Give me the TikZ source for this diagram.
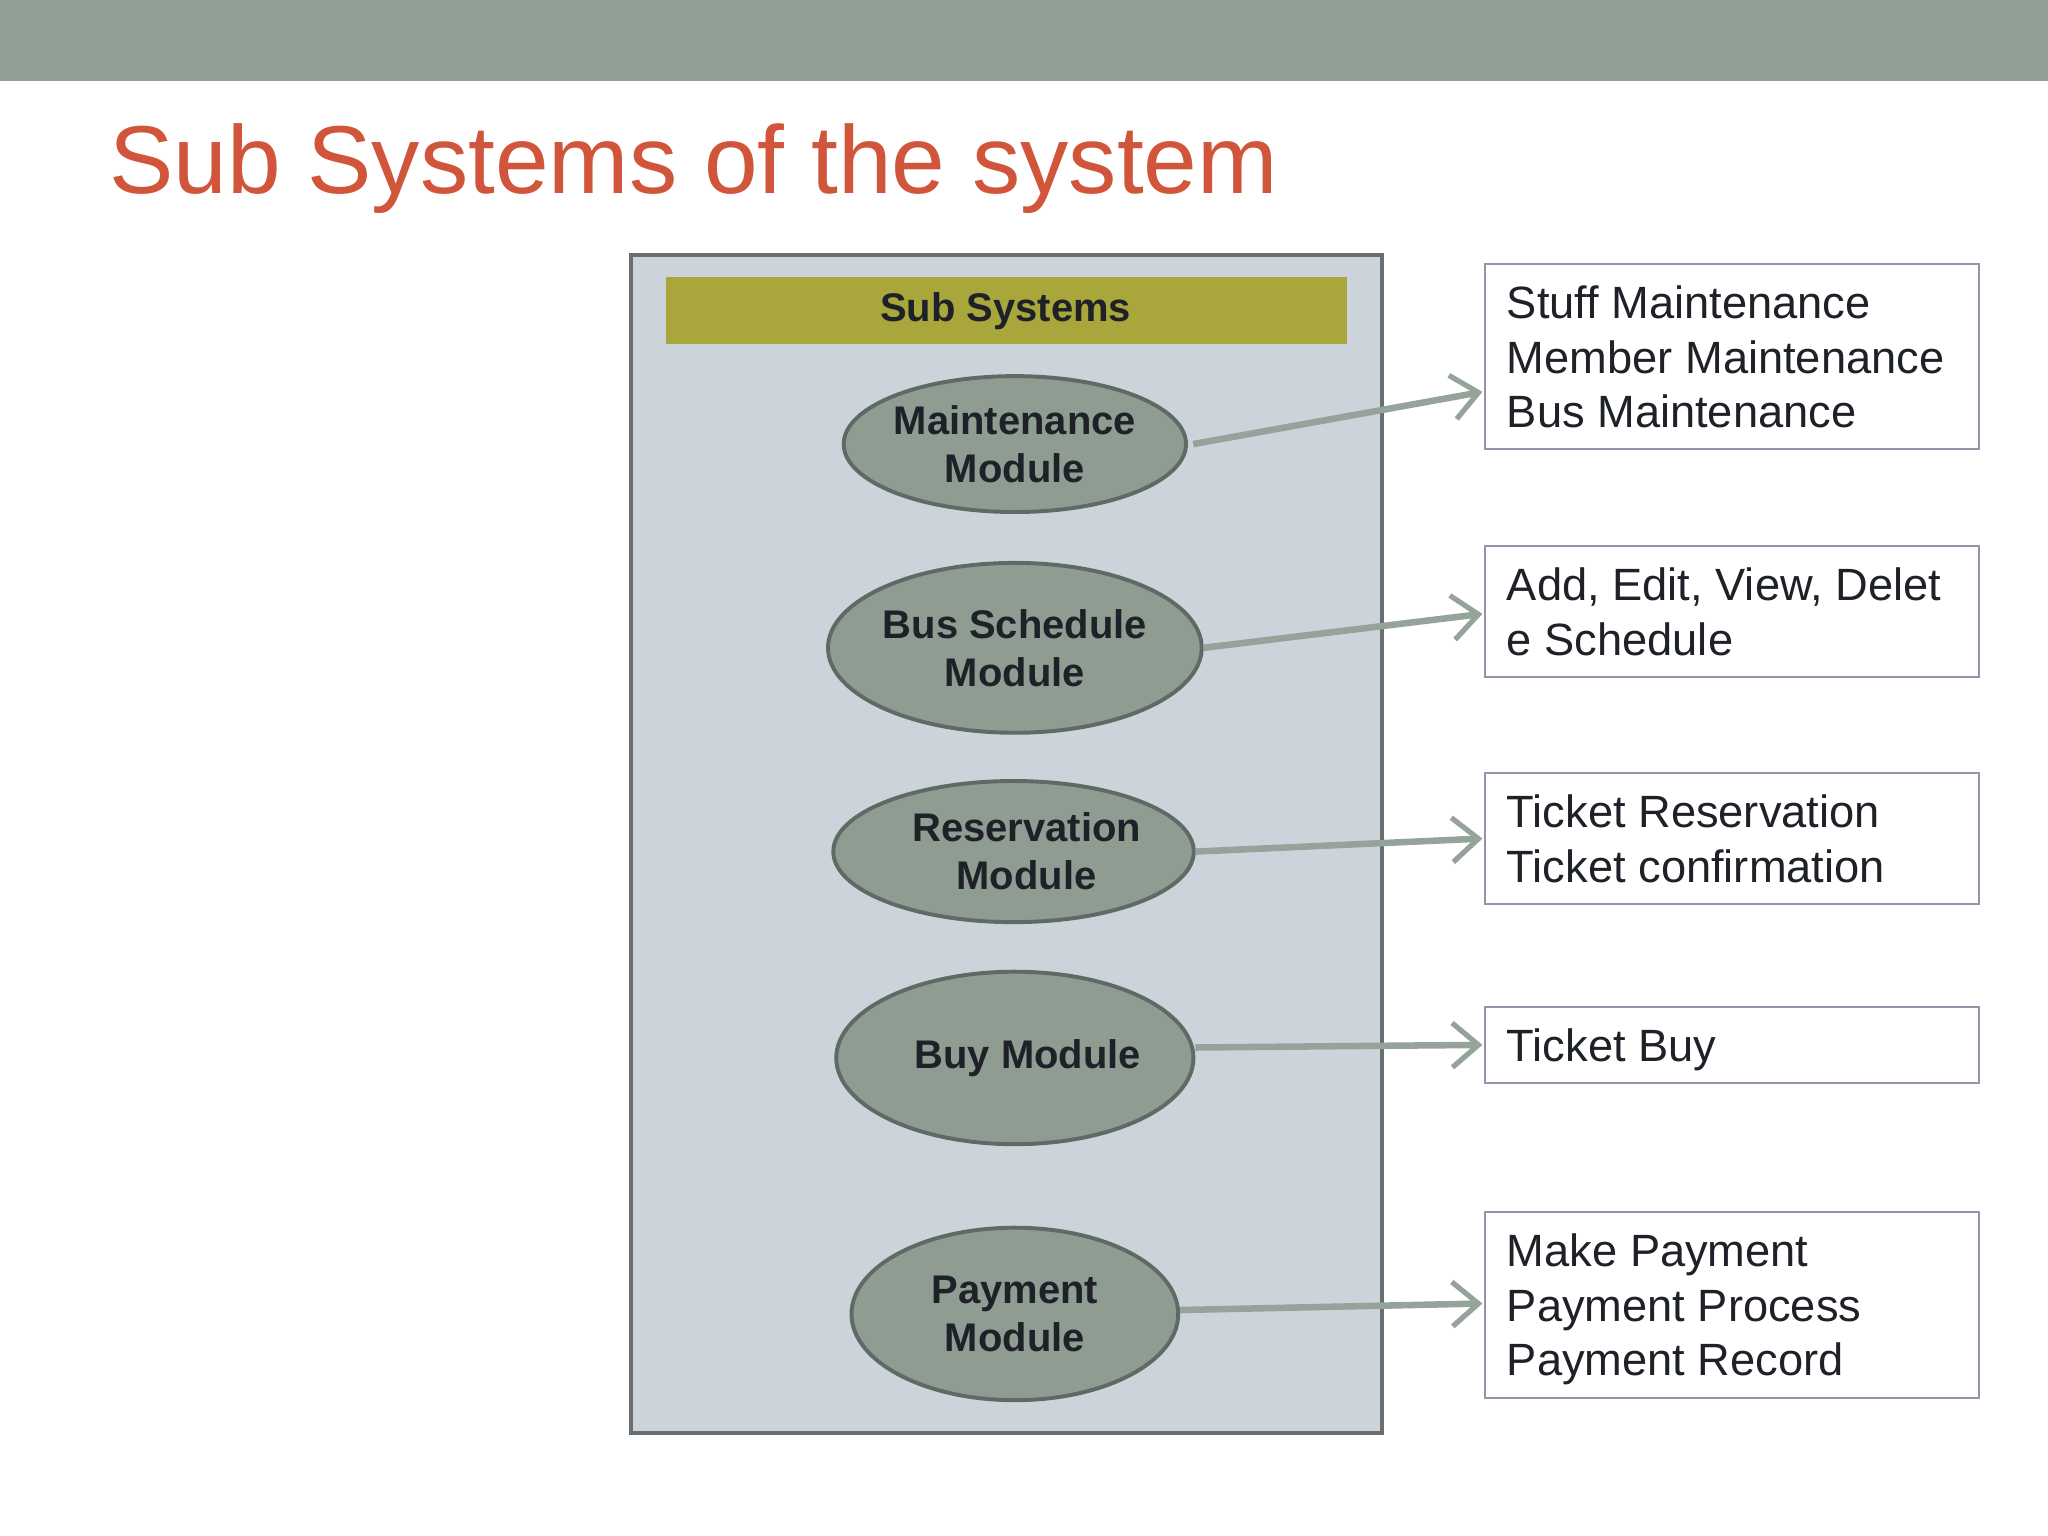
\documentclass[tikz,border=0pt]{standalone}
\usepackage{fontspec}
\setmainfont{Liberation Sans}
\usetikzlibrary{arrows.meta,shapes.geometric}
\definecolor{barc}{HTML}{90A097}
\definecolor{titlec}{HTML}{D0553A}
\definecolor{panelc}{HTML}{CDD3DB}
\definecolor{paneld}{HTML}{6B6E6E}
\definecolor{headc}{HTML}{A9A63B}
\definecolor{ellf}{HTML}{8E9C91}
\definecolor{elld}{HTML}{5E6B64}
\definecolor{arrc}{HTML}{95A39B}
\definecolor{boxd}{HTML}{8E96A8}
\definecolor{txt}{HTML}{1E2228}
\tikzset{
 mod/.style={ellipse,fill=ellf,draw=elld,line width=0.03cm,font=\fontsize{8.7}{10.5}\selectfont\bfseries,text=txt,align=center,inner sep=0pt},
 infobox/.style={draw=boxd,line width=0.015cm,fill=white},
 infotext/.style={anchor=north west,font=\fontsize{9.85}{11.9}\selectfont,text=txt,align=left,inner sep=0pt},
 conn/.style={draw=arrc,line width=0.05cm,-{Straight Barb[length=0.2cm,width=0.34cm,line width=0.04cm]}}
}
\begin{document}
\begin{tikzpicture}[x=0.01cm,y=-0.01cm]
\useasboundingbox (0,0) rectangle (1568,1176);
\fill[barc] (0,0) rectangle (1568,62);
\node[anchor=base west,inner sep=0pt,text=titlec,font=\fontsize{21}{25}\selectfont] (title) at (83,148) {Sub Systems of the system};
\draw[fill=panelc,draw=paneld,line width=0.03cm] (483,195) rectangle (1058,1097);
\fill[headc] (510,212) rectangle (1031,263);
\node[font=\fontsize{8.7}{10}\selectfont\bfseries,text=txt] (head) at (770,238) {Sub Systems};
\node[mod,minimum width=2.22cm,minimum height=1.04cm] (m1) at (777,340) {Maintenance\\Module};
\node[mod,minimum width=2.5cm,minimum height=1.3cm] (m2) at (777,496) {Bus Schedule\\Module};
\node[mod,minimum width=2.36cm,minimum height=1.08cm] (m3) at (776,652) {\hspace*{0.2cm}Reservation\\\hspace*{0.2cm}Module};
\node[mod,minimum width=2.5cm,minimum height=1.32cm] (m4) at (777,810) {\hspace*{0.2cm}Buy Module};
\node[mod,minimum width=2.5cm,minimum height=1.32cm] (m5) at (777,1006) {Payment\\Module};
\draw[infobox] (1137,202) rectangle (1515,344);
\draw[infobox] (1137,418) rectangle (1515,518);
\draw[infobox] (1137,592) rectangle (1515,692);
\draw[infobox] (1137,771) rectangle (1515,829);
\draw[infobox] (1137,928) rectangle (1515,1070);
\node[infotext] (t1) at (1153,218) {Stuff Maintenance\\Member Maintenance\\Bus Maintenance};
\node[infotext] (t2) at (1153,434) {Add, Edit, View, Delet\\e Schedule};
\node[infotext] (t3) at (1153,608) {Ticket Reservation\\Ticket confirmation};
\node[infotext] (t4) at (1153,787) {Ticket Buy};
\node[infotext] (t5) at (1153,944) {Make Payment\\Payment Process\\Payment Record};
\coordinate (e1) at (1135,300);
\coordinate (e2) at (1135,470);
\coordinate (e3) at (1135,642);
\coordinate (e4) at (1135,800);
\coordinate (e5) at (1135,998);
\draw[conn] (m1.east) ++(4,0) -- (e1);
\draw[conn] (m2.east) -- (e2);
\draw[conn] (m3.east) -- (e3);
\draw[conn] (m4.east) ++(0,-8) -- (e4);
\draw[conn] (m5.east) ++(0,-3) -- (e5);
\end{tikzpicture}
\end{document}
